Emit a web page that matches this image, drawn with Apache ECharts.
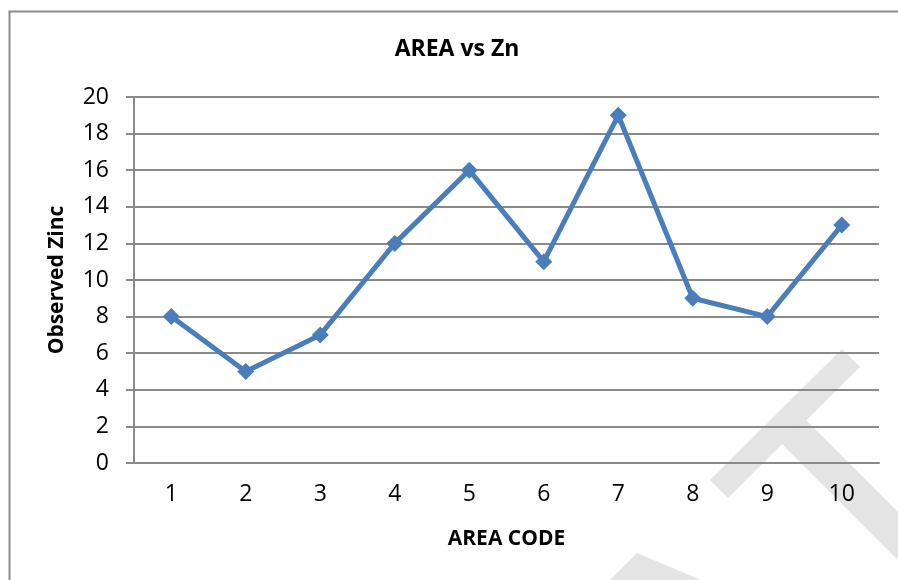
<!DOCTYPE html>
<html>
<head>
<meta charset="utf-8">
<script src="https://cdn.jsdelivr.net/npm/echarts@6/dist/echarts.min.js"></script>
<style>
html,body{margin:0;padding:0;background:#fff;}
#chart{width:898px;height:580px;}
</style>
</head>
<body>
<div id="chart"></div>
<script>
const categories = ['1','2','3','4','5','6','7','8','9','10'];
const zincValues = [8,5,7,12,16,11,19,9,8,13];
const yTicks = {min:0, max:20, interval:2};
const titleText = 'AREA vs Zn';
const xName = 'AREA CODE';
const yName = 'Observed Zinc';

const FONT = '"Open Sans", "Noto Sans", sans-serif';
const chart = echarts.init(document.getElementById('chart'), null, {renderer:'canvas'});
const wm = '#e4e4e4';
chart.setOption({
  animation:false,
  backgroundColor:'#fff',
  title:{text:titleText,left:452,textAlign:'center',top:33,
    textStyle:{fontFamily:FONT,fontWeight:'bold',fontSize:23,color:'#000'}},
  graphic:[
    {type:'rect',z:-10,shape:{x:9.5,y:11.5,width:1000,height:1000},style:{fill:'#fff',stroke:'#8a8a8a',lineWidth:2}},
    {type:'polygon',z:-9,shape:{points:[[842,349],[860,367],[728,498],[710,480]]},style:{fill:wm}},
    {type:'polygon',z:-9,shape:{points:[[805,419],[920,534],[920,582],[780,442]]},style:{fill:wm}},
    {type:'polygon',z:-9,shape:{points:[[637,553],[706,582],[608,582]]},style:{fill:wm}}
  ],
  grid:{left:134,right:19,top:97,bottom:117,containLabel:false},
  xAxis:{type:'category',data:categories,boundaryGap:true,
    name:xName,nameLocation:'middle',nameGap:66,
    nameTextStyle:{fontFamily:FONT,fontWeight:'bold',fontSize:21,color:'#000'},
    axisLine:{show:true,lineStyle:{color:'#8a8a8a',width:2}},
    axisTick:{show:false},
    axisLabel:{fontFamily:FONT,fontSize:23,color:'#000',margin:20},
    splitLine:{show:false}},
  yAxis:{type:'value',min:yTicks.min,max:yTicks.max,interval:yTicks.interval,
    name:yName,nameLocation:'middle',nameGap:66,nameRotate:90,
    nameTextStyle:{fontFamily:FONT,fontWeight:'bold',fontSize:21,color:'#000'},
    axisLine:{show:true,lineStyle:{color:'#8a8a8a',width:2}},
    axisTick:{show:true,length:8,lineStyle:{color:'#8a8a8a',width:2}},
    axisLabel:{fontFamily:FONT,fontSize:23,color:'#000',margin:25},
    splitLine:{show:true,lineStyle:{color:'#8a8a8a',width:2}}},
  series:[{type:'line',data:zincValues,symbol:'diamond',symbolSize:17,
    lineStyle:{color:'#4a7ebb',width:5},
    itemStyle:{color:'#4a7ebb'}}]
});
</script>
</body>
</html>
